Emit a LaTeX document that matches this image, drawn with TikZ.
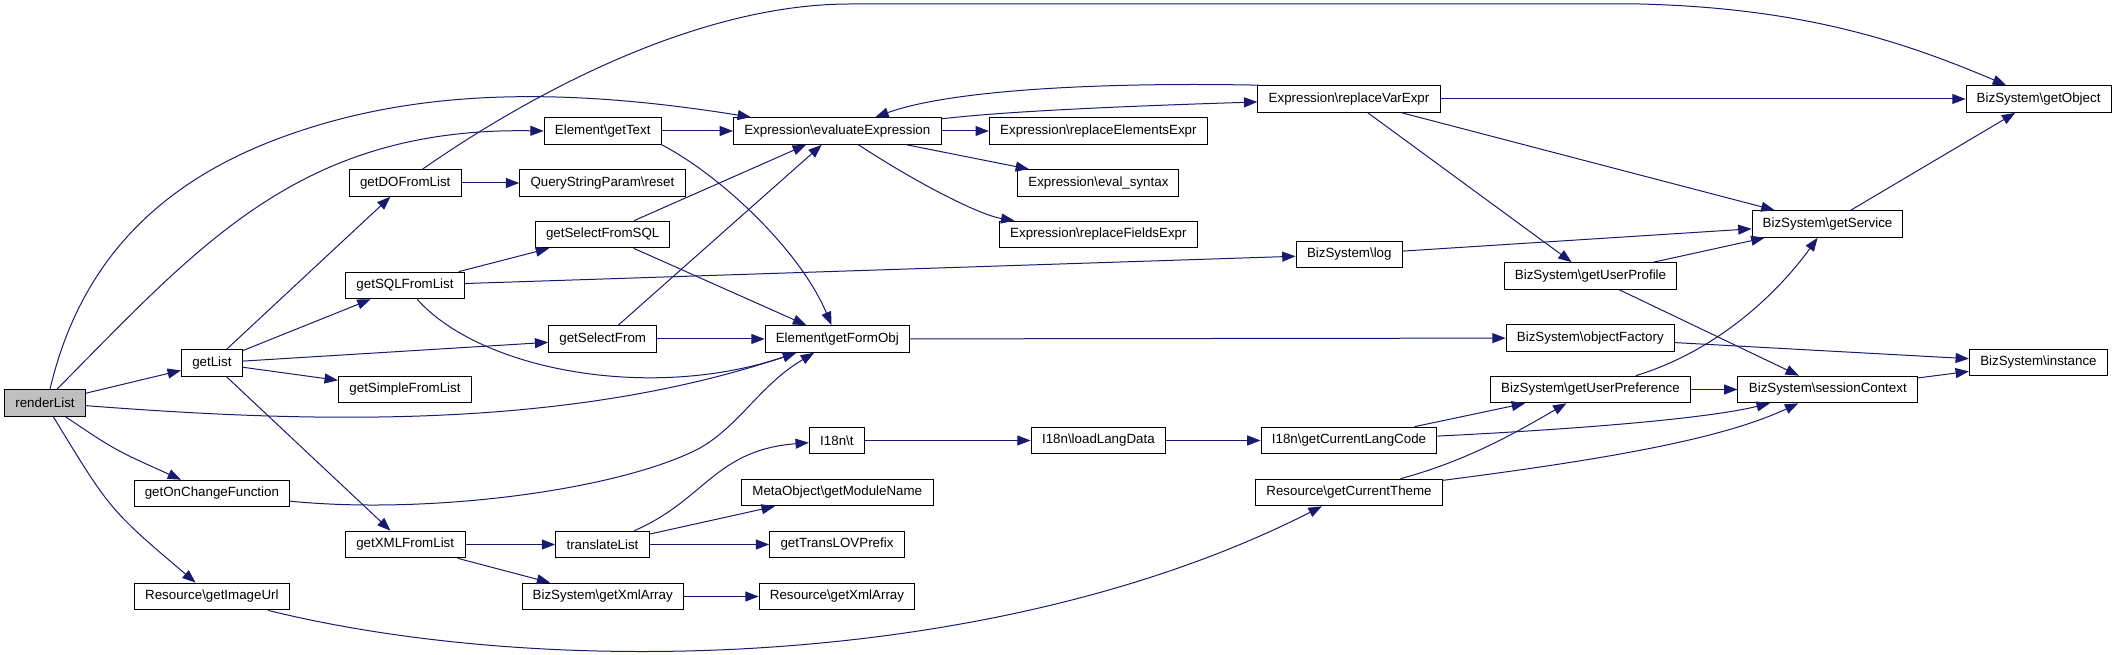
\documentclass[tikz,border=0pt]{standalone}
\usepackage{fontspec}
\setmainfont{Liberation Sans}
\usetikzlibrary{arrows.meta}
\definecolor{edgeblue}{RGB}{25,25,112}
\definecolor{rootgray}{RGB}{191,191,191}
\tikzset{
  fn/.style={draw=black, line width=0.75pt, fill=white, inner sep=0pt, minimum height=20pt, font=\fontsize{10pt}{12pt}\selectfont},
  root/.style={fn, fill=rootgray},
  call/.style={draw=edgeblue, line width=0.75pt, -{Triangle[length=10pt,width=7.5pt]}, fill=none},
}
\newcommand{\bs}{\textbackslash}
\begin{document}
\begin{tikzpicture}[x=0.75pt,y=-0.75pt]
\useasboundingbox (0,0) rectangle (2117,655);
% column 1
\node[root, minimum width=60.6pt] (rl) at (45,403) {renderList};
% column 2
\node[fn, minimum width=45.75pt] (gl) at (211.9,363) {getList};
\node[fn, minimum width=116.7pt] (oc) at (211.9,493.5) {getOnChangeFunction};
\node[fn, minimum width=116.1pt] (iu) at (211.9,596.5) {Resource\bs getImageUrl};
% column 3
\node[fn, minimum width=83.7pt] (dl) at (405.2,183) {getDOFromList};
\node[fn, minimum width=88.8pt] (sq) at (405,285.5) {getSQLFromList};
\node[fn, minimum width=99.9pt] (sl) at (405,389.5) {getSimpleFromList};
\node[fn, minimum width=89.9pt] (xl) at (405.2,544.5) {getXMLFromList};
% column 4
\node[fn, minimum width=87.8pt] (gt) at (602.7,131) {Element\bs getText};
\node[fn, minimum width=124pt] (qr) at (602.4,183) {QueryStringParam\bs reset};
\node[fn, minimum width=100.9pt] (ss) at (602.7,234.5) {getSelectFromSQL};
\node[fn, minimum width=80.9pt] (sf) at (602.7,339) {getSelectFrom};
\node[fn, minimum width=70.3pt] (tl) at (602.5,544.5) {translateList};
\node[fn, minimum width=120.9pt] (bx) at (602.7,596.5) {BizSystem\bs getXmlArray};
% column 5
\node[fn, minimum width=155.7pt] (ee) at (837.3,131) {Expression\bs evaluateExpression};
\node[fn, minimum width=108.2pt] (fo) at (837.3,339) {Element\bs getFormObj};
\node[fn, minimum width=41.3pt] (it) at (836.9,440.5) {I18n\bs t};
\node[fn, minimum width=144pt] (mo) at (837.3,492.5) {MetaObject\bs getModuleName};
\node[fn, minimum width=100.9pt] (tp) at (837,544.5) {getTransLOVPrefix};
\node[fn, minimum width=116.8pt] (rx) at (837,596.5) {Resource\bs getXmlArray};
% column 6
\node[fn, minimum width=163.6pt] (re) at (1098.4,131) {Expression\bs replaceElementsExpr};
\node[fn, minimum width=120.8pt] (es) at (1098.4,183) {Expression\bs eval\_syntax};
\node[fn, minimum width=148.4pt] (rf) at (1098.4,234.5) {Expression\bs replaceFieldsExpr};
\node[fn, minimum width=100.9pt] (ld) at (1098.4,440.5) {I18n\bs loadLangData};
% column 7
\node[fn, minimum width=136.7pt] (rv) at (1349,99) {Expression\bs replaceVarExpr};
\node[fn, minimum width=79.9pt] (lg) at (1349.3,254.5) {BizSystem\bs log};
\node[fn, minimum width=131.9pt] (lc) at (1349,440.5) {I18n\bs getCurrentLangCode};
\node[fn, minimum width=140.2pt] (ct) at (1349,492.5) {Resource\bs getCurrentTheme};
% column 8
\node[fn, minimum width=129.2pt] (up) at (1590.5,276) {BizSystem\bs getUserProfile};
\node[fn, minimum width=126.2pt] (of) at (1590.3,338) {BizSystem\bs objectFactory};
\node[fn, minimum width=149.9pt] (pr) at (1590.5,389.5) {BizSystem\bs getUserPreference};
% column 9
\node[fn, minimum width=113.2pt] (gs) at (1827.5,224) {BizSystem\bs getService};
\node[fn, minimum width=134.8pt] (sc) at (1827.8,389.5) {BizSystem\bs sessionContext};
% column 10
\node[fn, minimum width=108.8pt] (go) at (2038.6,99) {BizSystem\bs getObject};
\node[fn, minimum width=103.5pt] (in) at (2038.4,362.5) {BizSystem\bs instance};

% renderList
\draw[call] (rl) -- (gl);
\draw[call] ([xshift=9pt]rl.north) .. controls (200,245) and (300,127) .. (gt.west);
\draw[call] ([xshift=3.75pt]rl.north) .. controls (78,270) and (150,190) .. (267,143)
            .. controls (400,90) and (550,85) .. (ee);
\draw[call] ([yshift=-2pt]rl.east) .. controls (300,422) and (560,432) .. (fo);
\draw[call] (rl) .. controls (115,450) .. (oc);
\draw[call] (rl) .. controls (110,510) .. (iu);
% getList
\draw[call] (gl) -- (dl);
\draw[call] (gl) -- (sq);
\draw[call] (gl) -- (sf);
\draw[call] (gl) -- (sl);
\draw[call] (gl) -- (xl);
% getDOFromList
\draw[call] (dl) -- (qr);
\draw[call] ([xshift=13pt]dl.north) .. controls (500,115) and (680,4) .. (850,4)
            -- (1640,4) .. controls (1800,8) and (1900,40) .. (go);
% getText
\draw[call] (gt) -- (ee);
\draw[call] (gt.south east) .. controls (720,175) and (800,250) .. (fo);
% getSelectFromSQL
\draw[call] (ss) -- (ee);
\draw[call] (ss) -- (fo);
% getSQLFromList
\draw[call] (sq) -- (ss);
\draw[call] (sq) -- (lg);
\draw[call] (sq) .. controls (480,370) and (650,402) .. (fo);
% getSelectFrom
\draw[call] (sf) -- (fo);
\draw[call] (sf) -- (ee);
% getOnChangeFunction
\draw[call] (oc) .. controls (430,515) and (620,490) .. (700,448)
            .. controls (740,425) and (760,385) .. (fo);
% getXMLFromList
\draw[call] (xl) -- (tl);
\draw[call] (xl) -- (bx);
% translateList
\draw[call] (tl) .. controls (705,500) and (715,450) .. (it);
\draw[call] (tl) -- (mo);
\draw[call] (tl) -- (tp);
% BizSystem getXmlArray
\draw[call] (bx) -- (rx);
% getImageUrl
\draw[call] (iu) .. controls (550,680) and (1000,670) .. (ct);
% evaluateExpression
\draw[call] (ee) -- (re);
\draw[call] (ee) -- (es);
\draw[call] (ee) .. controls (920,185) and (980,215) .. (rf);
\draw[call] (ee) .. controls (1000,112) and (1100,107) .. (rv);
% replaceVarExpr
\draw[call] ([xshift=1pt]rv.north west) .. controls (1100,82) and (950,90) .. (ee);
\draw[call] (rv) -- (go);
\draw[call] (rv) -- (gs);
\draw[call] (rv) -- (up);
% getFormObj
\draw[call] (fo) -- (of);
% log
\draw[call] (lg) -- (gs);
% getUserProfile
\draw[call] (up) -- (gs);
\draw[call] (up) -- (sc);
% getService
\draw[call] (gs) -- (go);
% objectFactory
\draw[call] (of) -- (in);
% getUserPreference
\draw[call] (pr) -- (sc);
\draw[call] (pr) .. controls (1720,350) and (1780,290) .. (gs);
% sessionContext
\draw[call] (sc) -- (in);
% I18n
\draw[call] (it) -- (ld);
\draw[call] (ld) -- (lc);
\draw[call] (lc) -- (pr);
\draw[call] (lc) .. controls (1560,430) and (1700,420) .. (sc);
% getCurrentTheme
\draw[call] (ct) .. controls (1470,460) and (1520,430) .. (pr);
\draw[call] (ct) .. controls (1600,460) and (1720,440) .. (sc);
\end{tikzpicture}
\end{document}
